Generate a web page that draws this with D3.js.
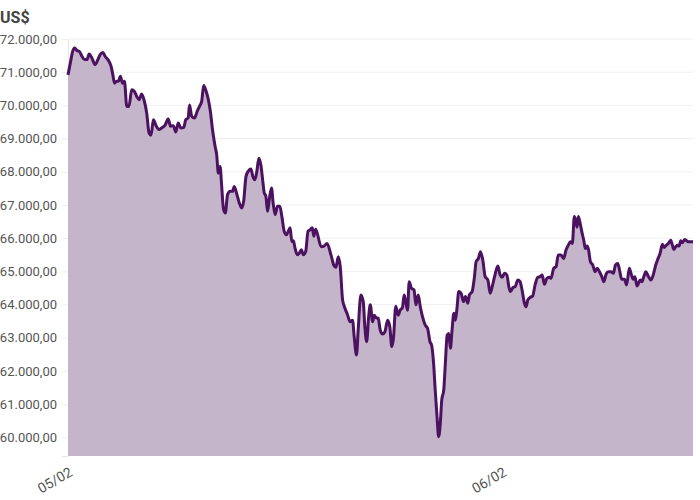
<!DOCTYPE html>
<html>
<head>
<meta charset="utf-8">
<script src="https://cdn.jsdelivr.net/npm/d3@7"></script>
<style>
  html, body { margin: 0; padding: 0; background: #fff; }
  svg text { font-family: Roboto, "Noto Sans", sans-serif; }
</style>
</head>
<body>
<svg id="chart" width="700" height="500"></svg>
<script>
// Hours after 05/02 00:00
const hours = [0.0,0.13,0.26,0.37,0.50,0.62,0.77,0.92,1.05,1.17,1.32,1.50,1.65,1.78,1.93,2.05,2.24,2.38,2.48,2.57,
2.70,2.79,2.90,3.01,3.12,3.25,3.37,3.52,3.67,3.80,3.93,4.07,4.20,4.35,4.48,4.59,4.72,4.86,5.03,5.17,
5.36,5.54,5.67,5.82,5.96,6.09,6.24,6.40,6.51,6.64,6.72,6.84,6.99,7.14,7.27,7.39,7.50,7.64,7.76,7.87,
8.00,8.13,8.22,8.31,8.41,8.49,8.60,8.70,8.82,8.97,9.10,9.19,9.34,9.47,9.60,9.71,9.84,9.98,10.11,10.22,
10.33,10.44,10.55,10.66,10.77,10.85,10.94,11.03,11.14,11.25,11.34,11.45,11.58,11.71,11.82,11.95,12.07,12.18,12.28,12.37,
12.46,12.55,12.68,12.79,12.90,13.01,13.14,13.27,13.38,13.50,13.59,13.69,14.00,14.15,14.32,14.54,14.69,14.81,14.94,15.05,
15.18,15.31,15.46,15.59,15.73,15.82,15.95,16.04,16.19,16.32,16.41,16.51,16.62,16.71,16.84,16.93,17.02,17.15,17.26,17.39,
17.52,17.67,17.79,17.90,17.99,18.12,18.25,18.36,18.49,18.58,18.67,18.77,18.86,18.99,19.13,19.23,19.36,19.47,19.60,19.75,
19.88,20.01,20.10,20.21,20.30,20.40,20.49,20.58,20.66,20.77,20.86,20.96,21.05,21.14,21.23,21.33,21.42,21.51,21.60,21.73,
21.86,21.97,22.10,22.19,22.34,22.47,22.56,22.69,22.80,22.93,23.06,23.21,23.34,23.45,23.58,23.76,23.89,24.00,24.13,24.26,
24.37,24.46,24.59,24.72,24.87,24.99,25.10,25.23,25.32,25.42,25.56,25.69,25.82,25.97,26.10,26.21,26.34,26.47,26.61,26.70,
26.85,26.98,27.10,27.25,27.40,27.53,27.66,27.77,27.88,27.99,28.08,28.14,28.21,28.31,28.42,28.51,28.60,28.69,28.77,28.88,
29.01,29.14,29.25,29.38,29.51,29.62,29.75,29.87,30.02,30.15,30.26,30.39,30.48,30.61,30.76,30.88,31.03,31.12,31.25,31.34,
31.45,31.54,31.63,31.73,31.82,31.94,32.07,32.22,32.35,32.49,32.62,32.73,32.86,32.95,33.08,33.19,33.32,33.41,33.50,33.59,
33.69,33.78,33.87,33.96,34.09,34.20,34.31,34.55];

const prices = [70920,71280,71630,71730,71650,71630,71480,71380,71380,71550,71430,71230,71380,71530,71590,71480,71350,71180,70920,70670,
70730,70730,70880,70670,70730,69970,69970,70470,70420,70270,70170,70340,70170,69770,69170,69100,69570,69400,69270,69320,
69400,69590,69370,69390,69200,69470,69320,69340,69570,69620,70010,69670,69620,69820,69970,70120,70600,70420,70170,69820,
69220,68770,68510,67960,68160,67610,66860,66760,67310,67410,67410,67560,67310,67060,66910,67110,67860,68030,68080,67860,
67760,68010,68410,68210,67710,67360,67260,66810,67210,67510,67060,66710,66960,66960,66660,66210,66100,66210,66310,65900,
65920,65700,65500,65550,65650,65500,65600,66210,66250,66310,66060,66270,65740,65760,65840,65490,65190,65120,65440,65140,
64140,63890,63680,63480,63530,63030,62480,63230,64290,64090,63330,62880,63630,63990,63480,63680,63610,63580,63230,63110,
63180,63530,63330,62730,62980,63950,63680,63830,63910,64290,64090,63830,64690,64490,64440,63990,64290,63950,63630,63380,
63280,62880,62780,62230,61420,60620,60020,60420,61120,61420,62230,63080,63130,62680,63230,63740,63530,63930,64390,64340,
64090,64240,64040,64290,64390,64840,65290,65390,65590,65340,64840,64740,64340,64540,64840,65160,64890,64820,64940,64890,
64540,64390,64510,64540,64740,64690,64440,64040,63930,64140,64220,64260,64590,64820,64840,64890,64610,64790,64820,64790,
65090,65140,65490,65490,65390,65640,65790,65890,65840,66650,66500,66330,66650,66450,66150,65940,65690,65760,65660,65290,
65190,64990,65090,64990,64840,64690,64920,64990,64990,64940,65190,65240,65060,64760,64760,64590,65090,64940,64760,64840,
64560,64640,64740,64690,64820,64990,64860,64740,64890,65190,65390,65540,65820,65720,65790,65840,65940,65790,65660,65740,
65790,65760,65920,65860,65960,65920,65890,65890];

const yTicks = [60000,61000,62000,63000,64000,65000,66000,67000,68000,69000,70000,71000,72000];
const xTickLabels = ["05/02","06/02"];
const unitLabel = "US$";

(function () {
  const start = new Date(2024, 1, 5, 0, 0, 0);
  const data = hours.map((h, i) => ({ t: new Date(start.getTime() + h * 3600000), v: prices[i] }));

  const locale = d3.formatLocale({ decimal: ",", thousands: ".", grouping: [3], currency: ["R$", ""] });
  const fmt = locale.format(",.2f");

  const svg = d3.select("#chart");
  const mLeft = 68, mRight = 693, mTop = 39, mBottom = 456;

  const x = d3.scaleTime()
    .domain([start, data[data.length - 1].t])
    .range([mLeft, mRight]);
  const y = d3.scaleLinear()
    .domain([59437, 72000])
    .range([mBottom, mTop]);

  const yAxis = d3.axisLeft(y).tickValues(yTicks).tickFormat(fmt).tickSize(6).tickPadding(5);
  const gy = svg.append("g").attr("transform", `translate(${mLeft},0)`).call(yAxis);
  gy.select(".domain").attr("stroke", "#e6e6e6");
  gy.selectAll(".tick line").attr("stroke", "#eeeeee");
  gy.selectAll(".tick text").attr("fill", "#555").style("font-size", "13px");

  svg.append("g").selectAll("line").data(yTicks).join("line")
    .attr("x1", mLeft).attr("x2", mRight)
    .attr("y1", d => y(d)).attr("y2", d => y(d))
    .attr("stroke", "#f0f0f0").attr("stroke-width", 1);

  const area = d3.area().x(d => x(d.t)).y0(mBottom).y1(d => y(d.v)).curve(d3.curveMonotoneX);
  svg.append("path").datum(data).attr("d", area).attr("fill", "#c5b5cb");

  const line = d3.line().x(d => x(d.t)).y(d => y(d.v)).curve(d3.curveMonotoneX);
  svg.append("path").datum(data).attr("d", line)
    .attr("fill", "none").attr("stroke", "#4b1260").attr("stroke-width", 3)
    .attr("stroke-linejoin", "round");

  const tickDates = xTickLabels.map(s => {
    const [dd, mm] = s.split("/").map(Number);
    return new Date(2024, mm - 1, dd);
  });
  const xAxis = d3.axisBottom(x).tickValues(tickDates).tickFormat(d3.timeFormat("%d/%m")).tickSize(0).tickPadding(0);
  const gx = svg.append("g").attr("transform", `translate(0,${mBottom})`).call(xAxis);
  gx.select(".domain").remove();
  gx.selectAll(".tick text")
    .attr("fill", "#555").style("font-size", "14px")
    .attr("text-anchor", "end")
    .attr("transform", "translate(5,19) rotate(-30)")
    .attr("dy", "0");

  svg.append("text").attr("x", 0).attr("y", 23)
    .attr("fill", "#444").style("font-size", "16px").style("font-weight", "bold")
    .text(unitLabel);
})();
</script>
</body>
</html>
